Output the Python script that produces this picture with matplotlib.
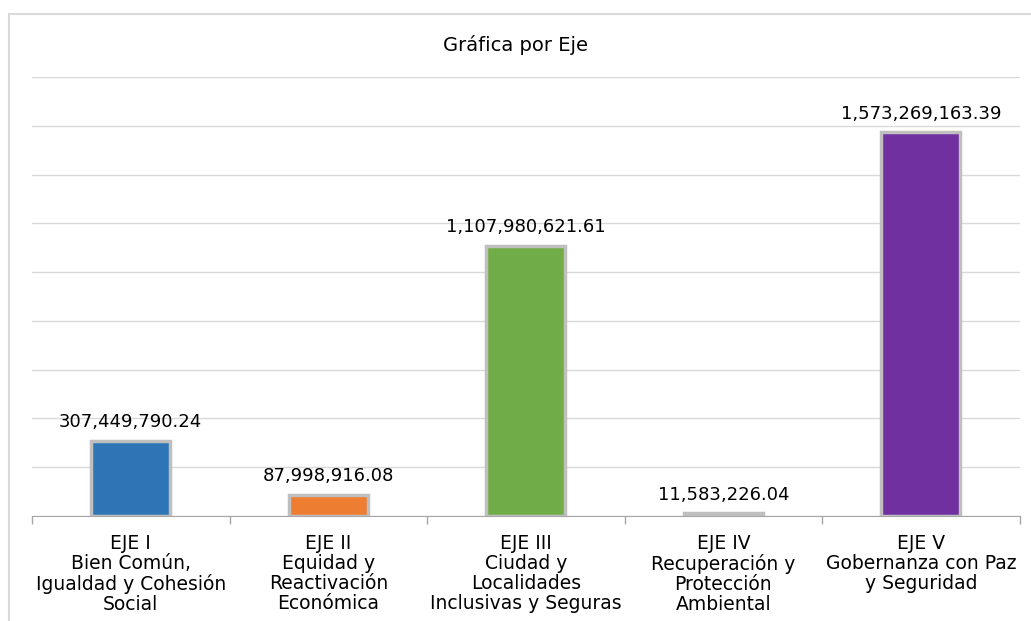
import matplotlib.pyplot as plt
from matplotlib.patches import Rectangle

# datos por eje
ejes = ["EJE I\nBien Común,\nIgualdad y Cohesión\nSocial",
        "EJE II\nEquidad y\nReactivación\nEconómica",
        "EJE III\nCiudad y\nLocalidades\nInclusivas y Seguras",
        "EJE IV\nRecuperación y\nProtección\nAmbiental",
        "EJE V\nGobernanza con Paz\ny Seguridad"]
montos = [307449790.24, 87998916.08, 1107980621.61, 11583226.04, 1573269163.39]
colores = ["#2E75B6", "#ED7D31", "#70AD47", "#A5A5A5", "#7030A0"]

plt.rcParams['font.family'] = ['DejaVu Sans']

fig = plt.figure(figsize=(10.31, 6.21), dpi=100)
ax = fig.add_axes([0.031, 0.169, 0.958, 0.707])

# marco del grafico
fig.add_artist(Rectangle((0.009, -0.1), 1.2, 1.0775, transform=fig.transFigure,
                         fill=False, edgecolor="#D9D9D9", linewidth=1.5))

x = range(len(ejes))
bars = ax.bar(x, montos, width=0.4, color=colores, edgecolor="#BFBFBF", linewidth=2.5, zorder=3)

for b, v in zip(bars, montos):
    ax.annotate(f"{v:,.2f}", (b.get_x() + b.get_width() / 2, b.get_height()),
                xytext=(0, 7), textcoords="offset points", ha="center", va="bottom",
                fontsize=13, color="#000000")

ax.set_xlim(-0.5, len(ejes) - 0.5)
ax.set_ylim(0, 1.8e9)
ax.set_yticks([i * 2e8 for i in range(10)])
ax.yaxis.grid(True, color="#D9D9D9", linewidth=1)
ax.set_axisbelow(True)
ax.tick_params(axis="y", left=False, labelleft=False)

ax.set_xticks(list(x))
ax.set_xticklabels(ejes, fontsize=13.5, linespacing=1.06)
ax.tick_params(axis="x", length=0, pad=13)
# marcas entre categorias
ax.set_xticks([i - 0.5 for i in range(len(ejes) + 1)], minor=True)
ax.tick_params(axis="x", which="minor", length=6, color="#A6A6A6", width=1)

for s in ["top", "right", "left"]:
    ax.spines[s].set_visible(False)
ax.spines["bottom"].set_color("#A6A6A6")

fig.text(0.5, 0.928, "Gráfica por Eje", ha="center", va="center", fontsize=14)

fig.savefig("out.png", dpi=100, facecolor="white")
